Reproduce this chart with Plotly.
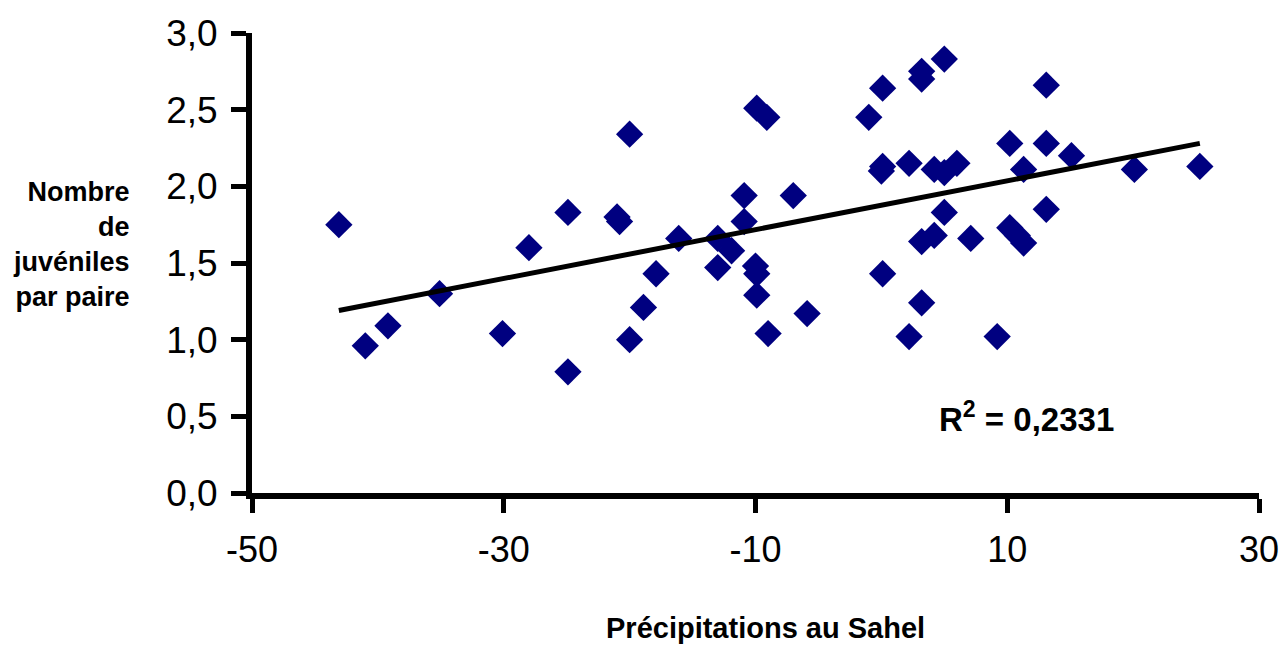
import plotly.graph_objects as go

# Data
precip = [-43.1, -41.0, -39.2, -35.1, -30.1, -28.0, -24.9, -24.9, -21.0, -20.8,
          -20.0, -20.0, -18.9, -17.9, -16.1, -13.0, -11.9, -13.0, -10.9, -10.9,
          -9.9, -9.1, -10.0, -9.9, -9.9, -9.0, -7.0, -5.9, -1.0, 0.1,
          0.0, 0.1, 0.1, 2.2, 2.2, 3.2, 3.2, 5.0, 3.2, 4.2,
          3.2, 4.2, 5.0, 6.0, 5.0, 7.1, 9.2, 10.2, 11.3, 10.2,
          10.8, 11.3, 13.1, 13.1, 13.1, 15.1, 20.1, 25.3]
juveniles = [1.75, 0.96, 1.09, 1.30, 1.04, 1.60, 1.83, 0.79, 1.80, 1.77,
             2.34, 1.00, 1.21, 1.43, 1.66, 1.66, 1.58, 1.47, 1.94, 1.77,
             2.51, 2.45, 1.48, 1.43, 1.29, 1.04, 1.94, 1.17, 2.45, 2.64,
             2.10, 2.13, 1.43, 2.15, 1.02, 2.75, 2.70, 2.83, 1.64, 1.68,
             1.24, 2.11, 2.09, 2.15, 1.83, 1.66, 1.02, 2.28, 2.11, 1.73,
             1.68, 1.63, 2.66, 2.28, 1.85, 2.20, 2.11, 2.13]

trend_x = [-43.1, 25.3]
trend_y = [1.19, 2.28]

x_ticks = [-50, -30, -10, 10, 30]
y_ticks = [0.0, 0.5, 1.0, 1.5, 2.0, 2.5, 3.0]

FONT = "Liberation Sans, Arial, sans-serif"

fig = go.Figure()
fig.add_trace(go.Scatter(
    x=precip, y=juveniles, mode="markers",
    marker=dict(symbol="diamond", size=21, color="#000080",
                line=dict(width=0)),
    showlegend=False, hoverinfo="x+y"))
fig.add_trace(go.Scatter(
    x=trend_x, y=trend_y, mode="lines",
    line=dict(color="black", width=5),
    showlegend=False, hoverinfo="skip"))

fig.update_layout(
    width=1285, height=645,
    margin=dict(l=252, r=26, t=33, b=152),
    paper_bgcolor="white", plot_bgcolor="white",
    separators=", ",
    font=dict(family=FONT, color="black"),
    xaxis=dict(range=[-50, 30], tickvals=x_ticks, ticktext=[str(v) for v in x_ticks],
               showgrid=False, zeroline=False, automargin=False,
               showline=True, linecolor="black", linewidth=6,
               ticks="outside", ticklen=14, tickwidth=5, tickcolor="black",
               tickfont=dict(size=36, family=FONT),
               ticklabelstandoff=6),
    yaxis=dict(range=[0, 3], tickvals=y_ticks, tickformat=".1f",
               showgrid=False, zeroline=False, automargin=False,
               showline=True, linecolor="black", linewidth=6,
               ticks="outside", ticklen=15, tickwidth=5, tickcolor="black",
               tickfont=dict(size=37, family=FONT),
               ticklabelstandoff=6),
    annotations=[
        dict(text="<b>Nombre<br>de<br>juvéniles<br>par paire</b>",
             xref="paper", yref="paper", x=-0.119, y=0.541,
             xanchor="right", yanchor="middle", align="right",
             showarrow=False, font=dict(size=27, family=FONT)),
        dict(text="<b>Précipitations au Sahel</b>",
             xref="paper", yref="paper", x=0.510, y=-0.293,
             xanchor="center", yanchor="middle",
             showarrow=False, font=dict(size=29, family=FONT)),
        dict(text="<b>R<sup>2</sup> = 0,2331</b>",
             xref="x", yref="y", x=11.5, y=0.496,
             xanchor="center", yanchor="middle",
             showarrow=False, font=dict(size=33, family=FONT)),
    ],
)

fig.write_html("out.html",
               config={"displayModeBar": False},
               post_script="document.body.style.margin='0';document.body.style.overflow='hidden';")
